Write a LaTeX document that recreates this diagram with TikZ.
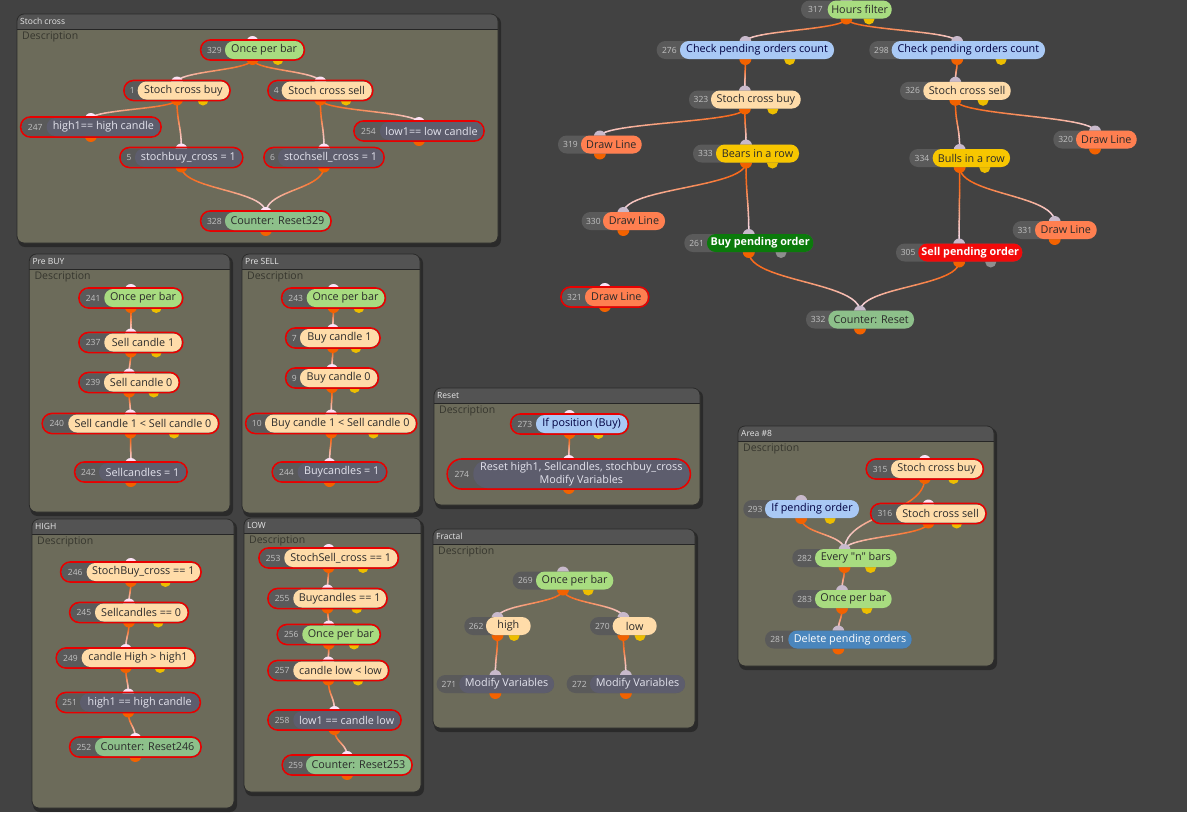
\documentclass[tikz,border=0pt]{standalone}
\usepackage{fontspec}
\setmainfont{Open Sans}[Ligatures=TeXOff]
\usetikzlibrary{calc}
\definecolor{canvas}{HTML}{424242}
\definecolor{cpanel}{HTML}{6C6B5A}
\definecolor{ctitle}{HTML}{535353}
\definecolor{ctitletxt}{HTML}{E6E6E6}
\definecolor{cborder}{HTML}{2A2A2A}
\definecolor{cdesc}{HTML}{36362E}
\definecolor{numbg}{HTML}{5A5A5A}
\definecolor{cnum}{HTML}{C2C2C2}
\definecolor{cgreen}{HTML}{A8DC80}
\definecolor{ccount}{HTML}{8DC08A}
\definecolor{cpeach}{HTML}{FFDCA9}
\definecolor{cblue}{HTML}{A9C9F5}
\definecolor{cyellow}{HTML}{F7C600}
\definecolor{cdraw}{HTML}{FF7F50}
\definecolor{cact}{HTML}{5D5D6D}
\definecolor{cbuy}{HTML}{0B7A0B}
\definecolor{csell}{HTML}{F20A0A}
\definecolor{cdel}{HTML}{4A86BD}
\definecolor{txtdark}{HTML}{2A2A2A}
\definecolor{txtlight}{HTML}{E4E4EE}
\definecolor{selred}{HTML}{E80000}
\definecolor{portor}{HTML}{F26200}
\definecolor{portyel}{HTML}{EDBE00}
\definecolor{portgry}{HTML}{8E8E8E}
\definecolor{inpsel}{HTML}{FBE3F6}
\definecolor{inpun}{HTML}{C8B9CB}
\definecolor{lnkor}{HTML}{F86A1C}
\definecolor{lnkpk}{HTML}{F6DCEA}
\pgfdeclarelayer{bg}
\pgfdeclarelayer{edges}
\pgfdeclarelayer{ports}
\pgfsetlayers{bg,edges,ports,main}
\newcommand\blkfont{\fontsize{10.8}{12.5}\selectfont}
\newcommand\numfont{\fontsize{8.5}{10}\selectfont}
\newcommand\titlefont{\fontsize{8.5}{10}\selectfont}
\newcommand\descfont{\fontsize{10.5}{12}\selectfont}
\def\blknone{none}
\tikzset{
  blksel/.code={\def\blkline{selred}\def\blkin{inpsel}},
  blkunsel/.code={\def\blkline{none}\def\blkin{inpun}},
  blkyel/.code={\def\blkport{portyel}},
  blkgry/.code={\def\blkport{portgry}},
  blknop/.code={\def\blkport{}},
  blkhh/.code={\def\blkhh{#1}},
  pill/.style={inner sep=0pt, font=\blkfont, text=txtdark},
  pgreen/.style={fill=cgreen},
  pcount/.style={fill=ccount},
  ppeach/.style={fill=cpeach},
  pblue/.style={fill=cblue, text=black!75!blue},
  pyellow/.style={fill=cyellow},
  pdraw/.style={fill=cdraw},
  pact/.style={fill=cact, text=txtlight},
  pbuy/.style={fill=cbuy, text=white, font=\blkfont\bfseries},
  psell/.style={fill=csell, text=white, font=\blkfont\bfseries},
  pdel/.style={fill=cdel, text=white},
  numlbl/.style={inner sep=0pt, font=\numfont, text=cnum},
  port/.style={circle, inner sep=0pt, minimum size=12, draw=none},
  panelbox/.style={fill=cpanel, rounded corners=7, inner sep=0pt, draw=none},
}
% #1 name, #2 x0, #3 split, #4 x1, #5 y, #6 number, #7 text, #8 pill style, #9 flags
\newcommand\blk[9]{%
  \begingroup
  \tikzset{blkunsel,blknop,blkhh=9,#9}%
  \pgfmathsetmacro\bcx{(#2+#4)/2}%
  \pgfmathsetmacro\byx{#2+0.75*(#4-#2)}%
  \pgfmathsetmacro\bw{#4-#3}%
  \pgfmathsetmacro\bnx{(#2+#3)/2+1}%
  \pgfmathsetmacro\btop{#5-\blkhh}%
  \pgfmathsetmacro\bbot{#5+\blkhh}%
  \pgfmathsetmacro\bin{#5-\blkhh+1}%
  \pgfmathsetmacro\bout{#5+\blkhh}%
  \pgfmathsetmacro\bylw{#5+\blkhh+0.5}%
  \ifx\blkline\blknone\else
    \draw[draw=selred, line width=1.7pt, rounded corners=\blkhh+0.7] (#2-1,\btop-1) rectangle (#4+1,\bbot+1);
  \fi
  \fill[numbg, rounded corners=\blkhh-0.3] (#2,\btop) rectangle (#4,\bbot);
  \node[pill,#8, minimum width=\bw, minimum height=2*\blkhh, rounded corners=\blkhh-0.3] (#1) at ({(#3+#4)/2},#5) {#7};
  \node[numlbl] (#1-n) at (\bnx,#5) {#6};
  \begin{pgfonlayer}{ports}
    \node[port, fill=\blkin] (#1-in) at (\bcx,\bin) {};
    \node[port, fill=portor] (#1-out) at (\bcx,\bout) {};
    \ifx\blkport\empty\else
      \node[port, fill=\blkport, minimum size=11] (#1-y) at (\byx,\bylw) {};
    \fi
  \end{pgfonlayer}
  \endgroup
}
% link from output port of #1 to input port of #2 (orange fading to pale pink)
\newcommand\lnk[2]{%
  \begin{pgfonlayer}{edges}
  \path (#1-out.center) coordinate (lA) (#2-in.center) coordinate (lD);
  \path ($(lA)!0.5!(lD)$) coordinate (lM);
  \path (lA |- lM) coordinate (lB) (lD |- lM) coordinate (lC);
  \foreach \i in {0,...,23}{%
    \pgfmathsetmacro\ta{\i/24}%
    \pgfmathsetmacro\tb{(\i+1)/24}%
    \pgfmathtruncatemacro\pc{max(0,min(100,(\i/23-0.2)/0.8*100))}%
    \begin{pgfscope}
      \colorlet{lnkc}{lnkpk!\pc!lnkor}%
      \pgfsetstrokecolor{lnkc}%
      \pgfsetlinewidth{1.5pt}%
      \pgfsetroundcap
      \pgfpathmoveto{\pgfpointcurveattime{\ta}{\pgfpointanchor{lA}{center}}{\pgfpointanchor{lB}{center}}{\pgfpointanchor{lC}{center}}{\pgfpointanchor{lD}{center}}}%
      \pgfpathlineto{\pgfpointcurveattime{\tb}{\pgfpointanchor{lA}{center}}{\pgfpointanchor{lB}{center}}{\pgfpointanchor{lC}{center}}{\pgfpointanchor{lD}{center}}}%
      \pgfusepath{stroke}%
    \end{pgfscope}
  }%
  \end{pgfonlayer}
}
% #1 name, #2 x0, #3 y0, #4 x1, #5 y1, #6 title
\newcommand\panel[6]{%
  \begin{pgfonlayer}{bg}
  \fill[black, opacity=0.35, rounded corners=7] (#2+1,#3+2) rectangle (#4+3,#5+4);
  \node[panelbox, minimum width={#4-#2}, minimum height={#5-#3}] (#1) at ({(#2+#4)/2},{(#3+#5)/2}) {};
  \begin{scope}
    \clip[rounded corners=7] (#2,#3) rectangle (#4,#5);
    \fill[ctitle] (#2,#3) rectangle (#4,#3+15);
  \end{scope}
  \draw[black!85, line width=0.9] (#2,#3+15) -- (#4,#3+15);
  \draw[cborder, line width=0.8, rounded corners=7] (#2,#3) rectangle (#4,#5);
  \node[anchor=west, font=\titlefont, text=ctitletxt, inner sep=0pt] (#1-t) at (#2+3,#3+7.5) {#6};
  \node[anchor=west, font=\descfont, text=cdesc, inner sep=0pt] (#1-d) at (#2+5,#3+23) {Description};
  \end{pgfonlayer}
}
\begin{document}
\begin{tikzpicture}[x=1pt, y=-1pt]
\useasboundingbox (0,0) rectangle (1187,812);
\begin{pgfonlayer}{bg}
\fill[canvas] (0,0) rectangle (1187,812);
\end{pgfonlayer}
% panels
\panel{p1}{17}{14}{498}{243}{Stoch cross}
\panel{p2}{29.3}{254}{230}{512}{Pre BUY}
\panel{p3}{242}{254}{420}{513}{Pre SELL}
\panel{p4}{32}{519}{234}{808}{HIGH}
\panel{p5}{244}{518}{421}{792}{LOW}
\panel{p6}{434}{388}{700}{505}{Reset}
\panel{p7}{433}{529}{695}{728}{Fractal}
\panel{p8}{738}{426}{994}{666}{Area \#8}
% Stoch cross
\blk{b329}{201.7}{225}{303.3}{50}{329}{Once per bar}{pgreen}{blksel,blkyel}
\blk{b1}{125}{137.7}{229}{90.5}{1}{Stoch cross buy}{ppeach}{blksel,blkyel}
\blk{b4}{269}{281.7}{371.7}{90.5}{4}{Stoch cross sell}{ppeach}{blksel,blkyel}
\blk{b247}{21.7}{46.7}{160}{127}{247}{high1== high candle}{pact}{blksel}
\blk{b254}{355}{380}{483}{131}{254}{low1== low candle}{pact}{blksel}
\blk{b5}{121}{135}{241.7}{157.5}{5}{stochbuy\_cross = 1}{pact}{blksel}
\blk{b6}{265}{278}{383}{157.5}{6}{stochsell\_cross = 1}{pact}{blksel}
\blk{b328}{201.7}{225}{330}{221}{328}{Counter: Reset329}{pcount}{blksel}
% main graph
\blk{b317}{801}{827.7}{891.7}{9.5}{317}{Hours filter}{pgreen}{blkyel}
\blk{b276}{656.7}{680}{834}{50}{276}{Check pending orders count}{pblue}{blkyel}
\blk{b298}{869.3}{891.7}{1045}{50}{298}{Check pending orders count}{pblue}{blkyel}
\blk{b323}{689}{711}{800.7}{99.5}{323}{Stoch cross buy}{ppeach}{blkyel}
\blk{b326}{900}{923.3}{1010.7}{90.8}{326}{Stoch cross sell}{ppeach}{blkyel}
\blk{b319}{558}{581}{641.7}{144.5}{319}{Draw Line}{pdraw}{}
\blk{b320}{1053.3}{1076}{1136.7}{139.5}{320}{Draw Line}{pdraw}{}
\blk{b333}{693}{716}{799}{153.5}{333}{Bears in a row}{pyellow}{blkyel}
\blk{b334}{909.3}{932.7}{1010}{158}{334}{Bulls in a row}{pyellow}{blkyel}
\blk{b330}{581.7}{603}{665}{221}{330}{Draw Line}{pdraw}{}
\blk{b331}{1012.7}{1035}{1096.7}{230}{331}{Draw Line}{pdraw}{}
\blk{b261}{684.3}{707}{813.3}{243}{261}{Buy pending order}{pbuy}{blkgry}
\blk{b305}{896}{918.3}{1022.3}{252.5}{305}{Sell pending order}{psell}{blkgry}
\blk{b321}{562}{585}{647.7}{297}{321}{Draw Line}{pdraw}{blksel}
\blk{b332}{806}{828.3}{914}{319.5}{332}{Counter: Reset}{pcount}{}
% Pre BUY
\blk{b241}{80}{104.3}{181.7}{298}{241}{Once per bar}{pgreen}{blksel,blkyel}
\blk{b237}{80}{104.3}{181.7}{342.5}{237}{Sell candle 1}{ppeach}{blksel,blkyel}
\blk{b239}{80}{104}{178.3}{382.5}{239}{Sell candle 0}{ppeach}{blksel,blkyel}
\blk{b240}{43.3}{68.3}{217.7}{423.5}{240}{Sell candle 1 < Sell candle 0}{ppeach}{blksel,blkyel}
\blk{b242}{75.7}{99}{186}{472}{242}{Sellcandles = 1}{pact}{blksel}
% Pre SELL
\blk{b243}{282.7}{306.7}{384.3}{298}{243}{Once per bar}{pgreen}{blksel,blkyel}
\blk{b7}{286.7}{300}{379}{338}{7}{Buy candle 1}{ppeach}{blksel,blkyel}
\blk{b9}{286.7}{300}{377.3}{378}{9}{Buy candle 0}{ppeach}{blksel,blkyel}
\blk{b10}{246.7}{265}{415.7}{423.5}{10}{Buy candle 1 < Sell candle 0}{ppeach}{blksel,blkyel}
\blk{b244}{273.3}{297.7}{385.7}{472}{244}{Buycandles = 1}{pact}{blksel}
% HIGH
\blk{b246}{61.7}{86.7}{200}{572}{246}{StochBuy\_cross == 1}{ppeach}{blksel,blkyel}
\blk{b245}{70.7}{95}{187.3}{612.5}{245}{Sellcandles == 0}{ppeach}{blksel,blkyel}
\blk{b249}{57.3}{81.7}{194.3}{658}{249}{candle High > high1}{ppeach}{blksel,blkyel}
\blk{b251}{57.3}{80}{199.3}{702.5}{251}{high1 == high candle}{pact}{blksel}
\blk{b252}{70.7}{95}{200}{747}{252}{Counter: Reset246}{pcount}{blksel}
% LOW
\blk{b253}{260}{284.3}{397.3}{558}{253}{StochSell\_cross == 1}{ppeach}{blksel,blkyel}
\blk{b255}{269}{293.3}{386}{598.5}{255}{Buycandles == 1}{ppeach}{blksel,blkyel}
\blk{b256}{278.3}{302.3}{379.3}{634.5}{256}{Once per bar}{pgreen}{blksel,blkyel}
\blk{b257}{269}{293.3}{387.7}{670.5}{257}{candle low < low}{ppeach}{blksel,blkyel}
\blk{b258}{269}{293.3}{400}{720}{258}{low1 == candle low}{pact}{blksel}
\blk{b259}{283.3}{306}{411}{765}{259}{Counter: Reset253}{pcount}{blksel}
% Reset
\blk{b273}{511.7}{536}{627.3}{424}{273}{If position (Buy)}{pblue}{blksel,blkyel}
\blk{b274}{448.3}{473.3}{689.3}{474}{274}{Reset high1, Sellcandles, stochbuy\_cross\\Modify Variables}{pact,align=center}{blksel,blkhh=14}
% Fractal
\blk{b269}{512.7}{536}{613.3}{580.5}{269}{Once per bar}{pgreen}{blkyel}
\blk{b262}{464.3}{486}{530.7}{626}{262}{high}{ppeach}{blkyel}
\blk{b270}{590}{612.7}{656.7}{626}{270}{low}{ppeach}{blkyel}
\blk{b271}{436.7}{459.3}{554}{684}{271}{Modify Variables}{pact}{}
\blk{b272}{566.7}{590}{685}{684}{272}{Modify Variables}{pact}{}
% Area #8
\blk{b315}{867.3}{891}{982.3}{469}{315}{Stoch cross buy}{ppeach}{blksel,blkyel}
\blk{b316}{871.7}{896}{985}{513.5}{316}{Stoch cross sell}{ppeach}{blksel,blkyel}
\blk{b293}{743.3}{765}{859}{509}{293}{If pending order}{pblue}{blkyel}
\blk{b282}{792.3}{815}{896.7}{558}{282}{Every "n" bars}{pgreen}{blkyel}
\blk{b283}{792.3}{815}{891.7}{599}{283}{Once per bar}{pgreen}{blkyel}
\blk{b281}{765}{788.3}{911.7}{639.5}{281}{Delete pending orders}{pdel}{}
% links
\lnk{b329}{b1}\lnk{b329}{b4}\lnk{b1}{b247}\lnk{b1}{b5}\lnk{b4}{b254}\lnk{b4}{b6}
\lnk{b5}{b328}\lnk{b6}{b328}
\lnk{b317}{b276}\lnk{b317}{b298}\lnk{b276}{b323}\lnk{b323}{b319}\lnk{b323}{b333}
\lnk{b333}{b330}\lnk{b333}{b261}\lnk{b261}{b332}
\lnk{b298}{b326}\lnk{b326}{b320}\lnk{b326}{b334}\lnk{b334}{b331}\lnk{b334}{b305}\lnk{b305}{b332}
\lnk{b241}{b237}\lnk{b237}{b239}\lnk{b239}{b240}\lnk{b240}{b242}
\lnk{b243}{b7}\lnk{b7}{b9}\lnk{b9}{b10}\lnk{b10}{b244}
\lnk{b246}{b245}\lnk{b245}{b249}\lnk{b249}{b251}\lnk{b251}{b252}
\lnk{b253}{b255}\lnk{b255}{b256}\lnk{b256}{b257}\lnk{b257}{b258}\lnk{b258}{b259}
\lnk{b273}{b274}
\lnk{b269}{b262}\lnk{b269}{b270}\lnk{b262}{b271}\lnk{b270}{b272}
\lnk{b315}{b282}\lnk{b316}{b282}\lnk{b293}{b282}\lnk{b282}{b283}\lnk{b283}{b281}
\end{tikzpicture}
\end{document}
